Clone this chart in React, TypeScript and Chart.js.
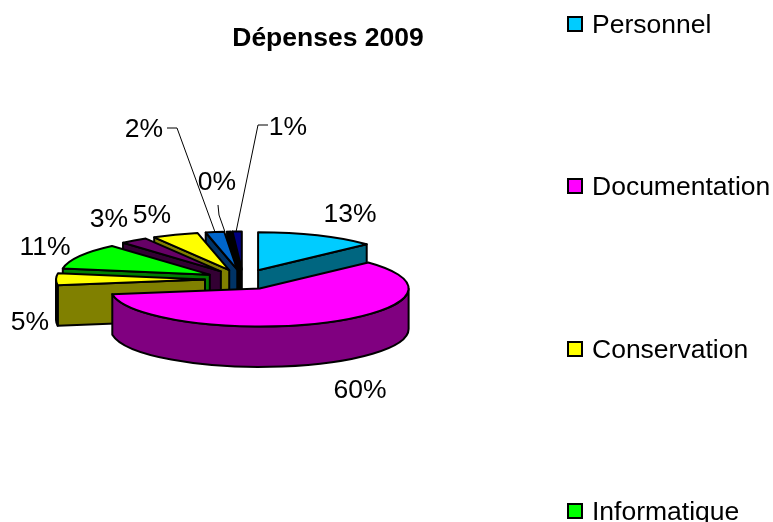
import React, { useEffect, useRef } from "react";
import { Chart, registerables } from "chart.js";

Chart.register(...registerables);

const titleText = "Dépenses 2009";
const sliceLabels = ["Personnel", "Documentation", "Conservation", "Informatique", "", "", "", "", ""];
const sliceValues = [13, 59.6, 5, 11, 3, 5, 2, 0.4, 1];
const topColors = ["#00CCFF", "#FF00FF", "#FFFF00", "#00FF00", "#660066", "#FFFF00", "#0066CC", "#000000", "#000080"];
const wallColors = ["#006680", "#800080", "#808000", "#008000", "#330033", "#808000", "#003366", "#000000", "#000040"];
const paintOrder = [8, 7, 6, 5, 4, 3, 2, 0, 1];
const legendCount = 4;

// label anchor (centre) for each slice
const labelX = [350, 360, 30, 45, 109, 152, 144, 217, 288];
const labelY = [212, 388, 320, 245, 217, 213, 127, 180, 125];
const leaderLines: (number[][] | null)[] = [
  null, null, null, null, null, null,
  [[167, 128], [177, 128], [215, 232]],
  [[218, 205], [219, 215], [225, 232]],
  [[268, 125], [258, 125], [236, 232]],
];

const FONT = '"Liberation Sans", Arial, sans-serif';
const TEXT_SIZE = 26.5;
const CX = 243, CY = 279.5, RX = 149, RY = 38, DEPTH = 40.5, EX = 38, EY = 10;

const pie3d = {
  id: "pie3d",
  beforeDatasetsDraw(chart: any) {
    const { ctx } = chart;
    const arcs = chart.getDatasetMeta(0).data;
    const k = RY / RX;
    paintOrder.forEach((i) => {
      const arc = arcs[i];
      const s = arc.startAngle, e = arc.endAngle;
      const mid = (s + e) / 2;
      const ax = CX + Math.cos(mid) * EX;
      const ay = CY + Math.sin(mid) * EY;
      const px = (t: number) => ax + Math.cos(t) * RX;
      const py = (t: number) => ay + Math.sin(t) * RY;
      ctx.save();
      ctx.lineWidth = 2;
      ctx.strokeStyle = "#000";
      ctx.lineJoin = "round";
      ctx.fillStyle = wallColors[i];
      const quad = (t: number) => {
        ctx.beginPath();
        ctx.moveTo(ax, ay);
        ctx.lineTo(px(t), py(t));
        ctx.lineTo(px(t), py(t) + DEPTH);
        ctx.lineTo(ax, ay + DEPTH);
        ctx.closePath();
        ctx.fill();
        ctx.stroke();
      };
      if (Math.cos(s) < 0) quad(s);
      if (Math.cos(e) > 0) quad(e);
      // outer wall: front-facing part of the rim
      const ranges = [[0, Math.PI], [2 * Math.PI, 3 * Math.PI]];
      ranges.forEach(([a, b]) => {
        const from = Math.max(s, a), to = Math.min(e, b);
        if (to > from) {
          ctx.beginPath();
          ctx.ellipse(ax, ay, RX, RY, 0, from, to);
          ctx.lineTo(px(to), py(to) + DEPTH);
          ctx.ellipse(ax, ay + DEPTH, RX, RY, 0, to, from, true);
          ctx.closePath();
          ctx.fill();
          ctx.stroke();
        }
      });
      ctx.restore();

      // top face: the library's own arc, flattened
      ctx.save();
      ctx.translate(ax, ay);
      ctx.scale(1, k);
      ctx.translate(-arc.x, -arc.y);
      arc.draw(ctx);
      ctx.restore();

      ctx.save();
      ctx.lineWidth = 2;
      ctx.strokeStyle = "#000";
      ctx.lineJoin = "round";
      ctx.beginPath();
      ctx.moveTo(ax, ay);
      ctx.ellipse(ax, ay, RX, RY, 0, s, e);
      ctx.closePath();
      ctx.stroke();
      ctx.restore();
    });
    return false;
  },
  afterDraw(chart: any) {
    const { ctx } = chart;
    const values = chart.data.datasets[0].data;
    ctx.save();
    ctx.fillStyle = "#000";
    ctx.font = `${TEXT_SIZE}px ${FONT}`;
    ctx.textAlign = "center";
    ctx.textBaseline = "alphabetic";
    values.forEach((v: number, i: number) => {
      ctx.fillText(`${Math.round(v)}%`, labelX[i], labelY[i] + 9.5);
    });
    ctx.strokeStyle = "#000";
    ctx.lineWidth = 1;
    leaderLines.forEach((pts) => {
      if (!pts) return;
      ctx.beginPath();
      pts.forEach(([x, y], j) => (j ? ctx.lineTo(x, y) : ctx.moveTo(x, y)));
      ctx.stroke();
    });
    // legend
    ctx.textAlign = "left";
    chart.data.labels.slice(0, legendCount).forEach((label: string, i: number) => {
      const base = 33 + i * 162.3;
      const y = Math.round(base - 9);
      ctx.fillStyle = topColors[i];
      ctx.fillRect(568, y - 7, 14, 14);
      ctx.strokeStyle = "#000";
      ctx.lineWidth = 2;
      ctx.strokeRect(568, y - 7, 14, 14);
      ctx.fillStyle = "#000";
      ctx.fillText(label, 592, base);
    });
    ctx.restore();
  },
};

export default function App() {
  const ref = useRef<HTMLCanvasElement>(null);
  useEffect(() => {
    const chart = new Chart(ref.current as HTMLCanvasElement, {
      type: "pie",
      data: {
        labels: sliceLabels,
        datasets: [{ data: sliceValues, backgroundColor: topColors, borderWidth: 0, radius: RX } as any],
      },
      options: {
        animation: false,
        responsive: false,
        layout: { padding: { right: 117 } },
        plugins: {
          legend: { display: false },
          tooltip: { enabled: false },
          title: {
            display: true,
            text: titleText,
            fullSize: false,
            color: "#000",
            font: { family: FONT, size: TEXT_SIZE, weight: "bold" },
            padding: { top: 23, bottom: 10 },
          },
        },
      } as any,
      plugins: [pie3d],
    });
    return () => chart.destroy();
  }, []);
  return (
    <canvas
      ref={ref}
      width={773}
      height={522}
      style={{ position: "fixed", left: 0, top: 0, width: 773, height: 522, background: "#fff" }}
    />
  );
}
